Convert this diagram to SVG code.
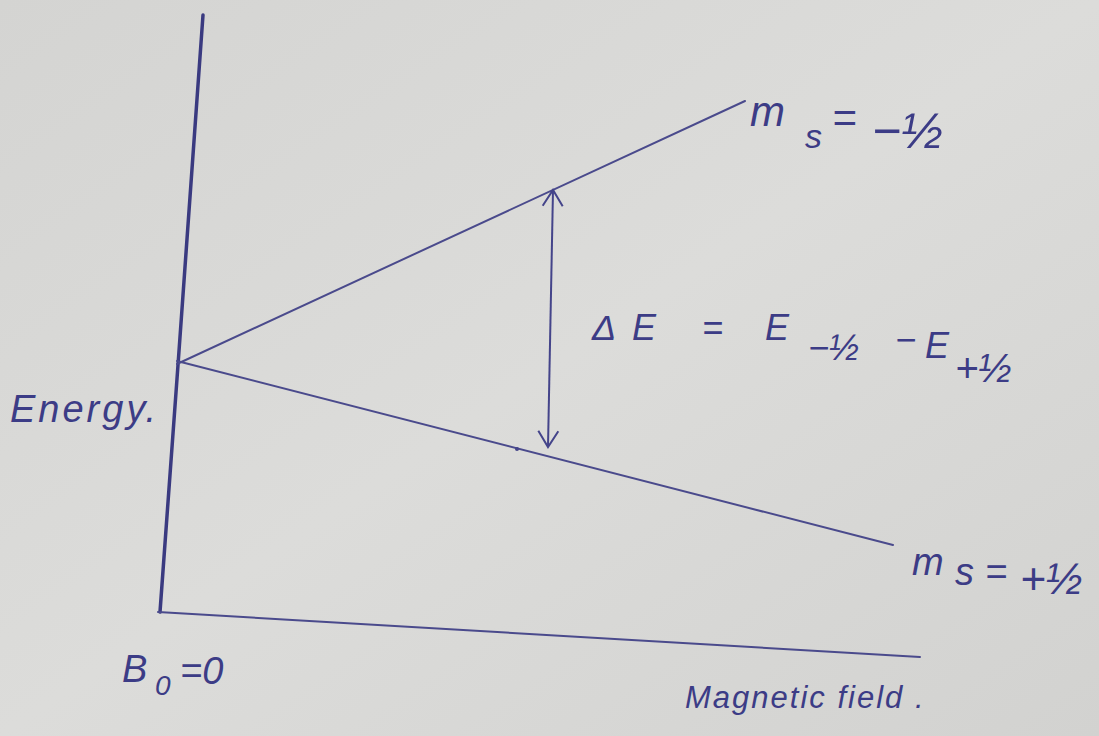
<svg xmlns="http://www.w3.org/2000/svg" width="1099" height="736" viewBox="0 0 1099 736">
<defs>
<linearGradient id="bg" x1="0" y1="0" x2="1" y2="1">
<stop offset="0" stop-color="#d4d4d2"/>
<stop offset="0.5" stop-color="#dcdcda"/>
<stop offset="1" stop-color="#d2d2d0"/>
</linearGradient>
<marker id="ah" viewBox="0 0 24 24" refX="22" refY="12" markerWidth="24" markerHeight="24" markerUnits="userSpaceOnUse" orient="auto-start-reverse">
<path d="M6,2 L22,12 L6,22" fill="none" stroke="#44448a" stroke-width="2"/>
</marker>
<style>
.ln{fill:none;stroke:#4a4a8c;stroke-width:2;stroke-linecap:round}
.ax{fill:none;stroke:#3a3a80;stroke-width:3.5;stroke-linecap:round}
.t{font-family:"Liberation Sans",Arial,sans-serif;fill:#3c3c86;font-style:italic}
</style>
</defs>
<rect width="1099" height="736" fill="url(#bg)"/>
<g id="connectors">
<path class="ax" d="M203,15 L178,365 L160,612"/>
<path class="ln" d="M158,612 L920,657"/>
<path class="ln" d="M177,364 L745,101"/>
<path class="ln" d="M177,361 L893,545"/>
<path d="M553,190 L548,447" fill="none" stroke="#44448a" stroke-width="2" marker-start="url(#ah)" marker-end="url(#ah)"/>
<circle cx="517" cy="449" r="2" fill="#44448a"/>
</g>
<g id="label-ms-minus">
<text class="t" font-size="42"><tspan x="750" y="126">m</tspan><tspan x="805" y="148" font-size="34">s</tspan><tspan x="832" y="132">=</tspan><tspan x="872" y="148" font-size="50">−½</tspan></text>
</g>
<g id="label-deltaE">
<text class="t" font-size="36"><tspan x="592" y="340">Δ</tspan><tspan x="632" y="340">E</tspan><tspan x="702" y="340">=</tspan><tspan x="765" y="340">E</tspan><tspan x="808" y="360" font-size="36">−½</tspan><tspan x="895" y="352">−</tspan><tspan x="925" y="358">E</tspan><tspan x="955" y="382" font-size="40">+½</tspan></text>
</g>
<g id="label-energy">
<text class="t" x="10" y="422" font-size="38" letter-spacing="3">Energy.</text>
</g>
<g id="label-ms-plus">
<text class="t" font-size="38"><tspan x="912" y="575">m</tspan><tspan x="955" y="585">s</tspan><tspan x="985" y="585">=</tspan><tspan x="1020" y="594" font-size="44">+½</tspan></text>
</g>
<g id="label-b0">
<text class="t" font-size="38"><tspan x="122" y="682">B</tspan><tspan x="155" y="695" font-size="28">0</tspan><tspan x="180" y="684">=0</tspan></text>
</g>
<g id="label-field">
<text class="t" x="685" y="708" font-size="31" letter-spacing="2">Magnetic field .</text>
</g>
</svg>
